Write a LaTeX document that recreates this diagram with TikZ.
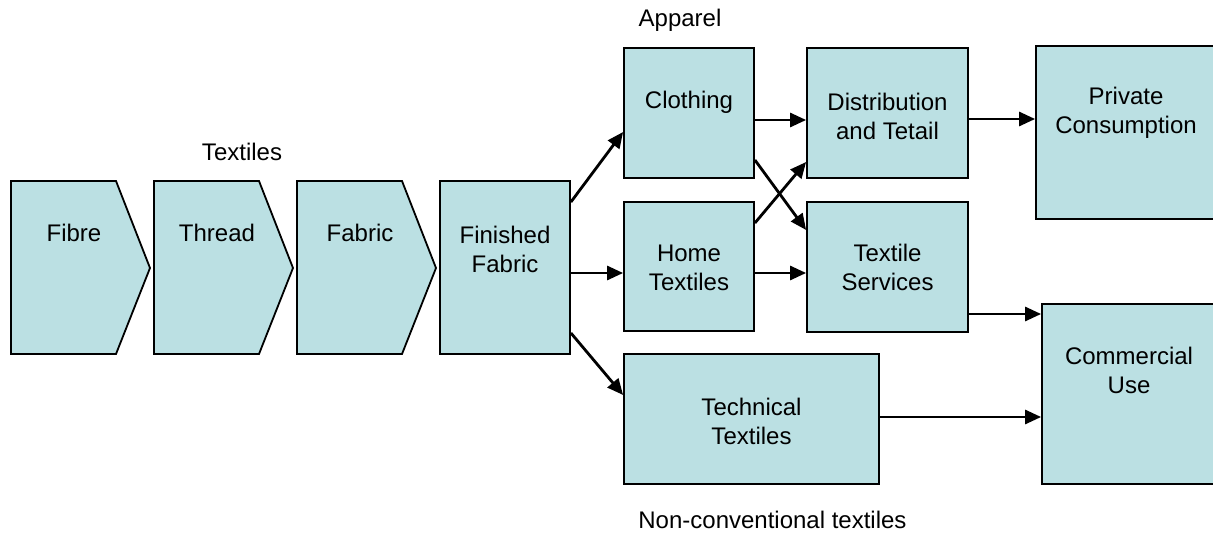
\documentclass[tikz,border=0pt]{standalone}
\usepackage{fontspec}
\setmainfont{Liberation Sans}
\usepackage{tikz}
\usetikzlibrary{arrows.meta}
\definecolor{boxfill}{RGB}{187,224,227}
\tikzset{box/.style={draw,fill=boxfill,line width=0.9pt,inner sep=0pt},
  lbl/.style={align=center,font=\fontsize{12}{14.5}\selectfont,inner sep=0pt},
  arr/.style={-{Triangle[length=8pt,width=7pt]},line width=1.4pt}}

\begin{document}
\begin{tikzpicture}[x=0.5pt,y=-0.5pt]
\useasboundingbox (0,0) rectangle (1213,534);
\foreach \x/\name in {11/Fibre,154/Thread,297/Fabric}{
  \draw[box] (\x,181) -- (\x+105,181) -- (\x+139,268) -- (\x+105,354) -- (\x,354) -- cycle;
  \node[lbl] (\name) at (\x+63,233) {\name};
}
\node[lbl] (textiles) at (242,152) {Textiles};
\node[lbl] (apparel) at (680,20) {Apparel};
\node[lbl,anchor=west] (nonconv) at (638,520) {Non-conventional textiles};

\node[box,minimum width=65pt,minimum height=86.5pt] (ff) at (505,267.5) {};
\node[box,minimum width=65pt,minimum height=65pt] (cloth) at (689,113) {};
\node[box,minimum width=65pt,minimum height=64.5pt] (home) at (689,266.5) {};
\node[box,minimum width=80.5pt,minimum height=65pt] (dist) at (887.5,113) {};
\node[box,minimum width=80.5pt,minimum height=65pt] (serv) at (887.5,267) {};
\node[box,minimum width=127.5pt,minimum height=65pt] (tech) at (751.5,419) {};
\node[box,minimum width=94pt,minimum height=86.5pt] (priv) at (1130,132.5) {};
\node[box,minimum width=91pt,minimum height=90pt] (comm) at (1133,394) {};

\node[lbl] (ff-t) at (505,249) {Finished\\Fabric};
\node[lbl] (cloth-t) at (689,102) {Clothing};
\node[lbl] (home-t) at (689,267.5) {Home\\Textiles};
\node[lbl] (dist-t) at (887.5,116.5) {Distribution\\and Tetail};
\node[lbl] (serv-t) at (887.5,267.5) {Textile\\Services};
\node[lbl] (tech-t) at (751.5,421) {Technical\\Textiles};
\node[lbl] (priv-t) at (1126,113) {Private\\Consumption};
\node[lbl] (comm-t) at (1129,370) {Commercial\\Use};

\draw[arr] (ff.east |- 0,202) -- (cloth.west |- 0,132);
\draw[arr] (ff.east |- 0,273) -- (home.west |- 0,273);
\draw[arr] (ff.east |- 0,333) -- (tech.west |- 0,395);
\draw[arr] (cloth.east |- 0,120) -- (dist.west |- 0,120);
\draw[arr] (cloth.east |- 0,160) -- (serv.west |- 0,230);
\draw[arr] (home.east |- 0,223) -- (dist.west |- 0,162);
\draw[arr] (home.east |- 0,273) -- (serv.west |- 0,273);
\draw[arr] (dist.east |- 0,119) -- (priv.west |- 0,119);
\draw[arr] (serv.east |- 0,314) -- (comm.west |- 0,314);
\draw[arr] (tech.east |- 0,417) -- (comm.west |- 0,417);
\end{tikzpicture}
\end{document}
